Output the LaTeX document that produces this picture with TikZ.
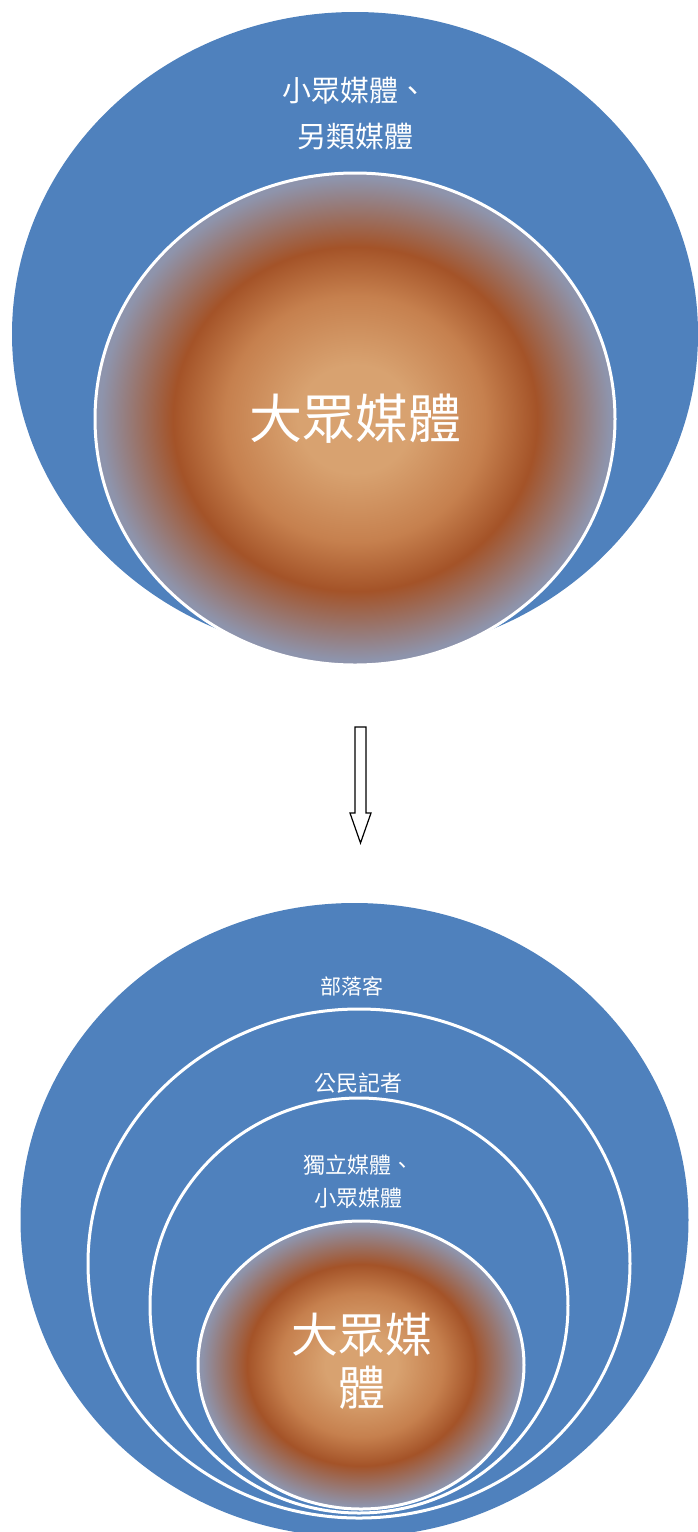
\documentclass[tikz,border=0pt]{standalone}
\usepackage{fontspec}
\setmainfont{Noto Sans CJK TC}
\usetikzlibrary{shapes.geometric}
\definecolor{ublue}{HTML}{4F81BD}
\definecolor{ocenter}{RGB}{216,162,112}
\definecolor{omid}{RGB}{198,128,78}
\definecolor{oring}{RGB}{164,83,40}
\definecolor{oedge}{RGB}{142,148,172}
\pgfdeclareradialshading{ballshade}{\pgfpoint{0bp}{0bp}}{color(0bp)=(ocenter); color(5.5bp)=(ocenter); color(12.5bp)=(omid); color(17.5bp)=(oring); color(24.5bp)=(oedge); color(50bp)=(oedge)}
\begin{document}
\begin{tikzpicture}[x=1pt,y=-1pt,
  bluedisk/.style={ellipse, fill=ublue, draw=none, inner sep=0pt},
  ringdisk/.style={ellipse, fill=ublue, draw=white, line width=3pt, inner sep=0pt},
  core/.style={ellipse, shade, shading=ballshade, draw=white, line width=3pt, inner sep=0pt},
  lbl/.style={text=white, align=center, inner sep=0pt},
  blockarrow/.style={draw=black, line width=1.2pt, fill=white, line join=miter}]
\useasboundingbox (0,0) rectangle (698,1532);
% top diagram
\node[bluedisk, minimum width=686pt, minimum height=644pt] (topouter) at (355,334) {};
\node[core, minimum width=520pt, minimum height=492pt] (topcore) at (355,419) {};
\node[lbl, font=\fontsize{29}{46}\selectfont] (toplbl) at (355,114) {小眾媒體、\\另類媒體};
\node[lbl, font=\fontsize{53}{60}\selectfont] (topcorelbl) at (355,419) {大眾媒體};
% arrow
\coordinate (atop) at (360.5,727);
\coordinate (atip) at (360.5,843);
\draw[blockarrow] (355,727) -- (366,727) -- (366,813) -- (371,813) -- (atip) -- (350,813) -- (355,813) -- cycle;
% bottom diagram
\node[bluedisk, minimum width=668pt, minimum height=634pt] (botouter) at (354.5,1220) {};
\node[ringdisk, minimum width=542pt, minimum height=509pt] (ring2) at (359,1263.5) {};
\node[ringdisk, minimum width=418pt, minimum height=415pt] (ring3) at (359,1305.5) {};
\node[core, minimum width=326pt, minimum height=288pt] (botcore) at (361,1365) {};
\node[lbl, font=\fontsize{21}{30}\selectfont] (l1) at (352,986) {部落客};
\node[lbl, font=\fontsize{22}{30}\selectfont] (l2) at (358,1083) {公民記者};
\node[lbl, font=\fontsize{22}{33}\selectfont] (l3) at (358,1182) {獨立媒體、\\小眾媒體};
\node[lbl, font=\fontsize{47}{53}\selectfont] (l4) at (362,1361) {大眾媒\\體};
\end{tikzpicture}
\end{document}
